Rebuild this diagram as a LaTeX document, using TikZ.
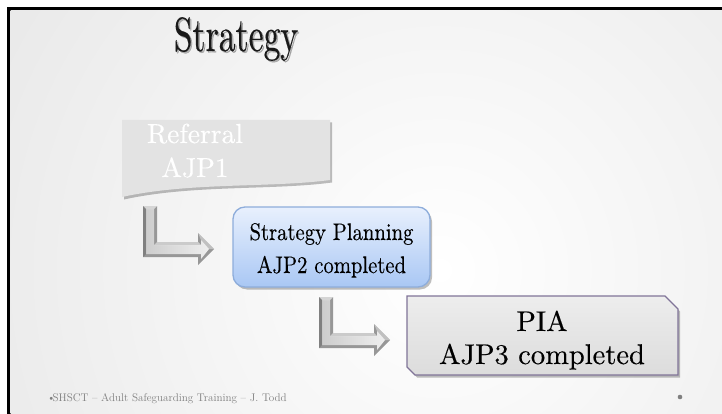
\documentclass[tikz,border=0pt]{standalone}
\usepackage{fontspec}
\newfontfamily\heavyrm{lmroman10-regular}[Extension=.otf, FakeBold=0.35]
\usetikzlibrary{shadows}
\definecolor{bgedge}{HTML}{D4D4D4}
\definecolor{refbox}{HTML}{E3E3E3}
\definecolor{blueTop}{HTML}{E8F0FD}
\definecolor{blueBot}{HTML}{A9C7F4}
\definecolor{blueLine}{HTML}{8EADDB}
\definecolor{piaLine}{HTML}{807498}
\definecolor{piaTop}{HTML}{EDEDED}
\definecolor{piaBot}{HTML}{DCDCDC}
\definecolor{arrDark}{HTML}{979797}
\definecolor{arrLight}{HTML}{EEEEEE}
\definecolor{arrMid}{HTML}{CDCDCD}
\definecolor{footgray}{HTML}{7F7F7F}
\newcommand{\cond}[2]{\scalebox{#1}[1]{#2}}
\tikzset{
  basetext/.style={anchor=base, inner sep=0pt},
  softshadow/.style={drop shadow={shadow xshift=2pt, shadow yshift=-2.5pt, opacity=0.25, fill=black}},
}
\newcommand{\bentarrowshape}{%
  \fill[arrDark] (143,206) -- (157,206) -- (157,242) -- (198,242) -- (198,233)
     -- (214,249) -- (198,265) -- (198,257) -- (143,257) -- cycle;
  \shade[left color=arrMid, right color=arrLight]
     (146,209) -- (154,209) -- (154,245) -- (201,245) -- (201,240)
     -- (209,249) -- (201,259) -- (201,254) -- (146,254) -- cycle;
  \fill[white, opacity=0.6] (143,206) -- (157,206) -- (154,209) -- (146,209) -- cycle;
  \fill[white, opacity=0.5] (157,242) -- (198,242) -- (201,245) -- (154,245) -- cycle;
  \fill[white, opacity=0.4] (198,233) -- (214,249) -- (209,249) -- (201,240) -- cycle;
  \fill[black, opacity=0.15] (143,206) -- (146,209) -- (146,254) -- (143,257) -- cycle;
}
\begin{document}
\begin{tikzpicture}[x=1pt,y=-1pt]
\useasboundingbox (0,0) rectangle (722,414);
% background
\fill[white] (0,0) rectangle (722,414);
\fill[black] (7,7) rectangle (722,414);
\begin{scope}
  \clip (10.5,10.5) rectangle (722,414);
  \shade[inner color=white, outer color=bgedge] (440,270) circle (1000);
\end{scope}
% title
\node[basetext, text=black, opacity=0.25, font=\heavyrm\fontsize{48}{48}\selectfont] at (237.5,52.5) {\cond{0.7}{Strategy}};
\node (title) [basetext, text=black!90, font=\heavyrm\fontsize{48}{48}\selectfont] at (236,51) {\cond{0.7}{Strategy}};
% referral (document shape)
\path[fill=refbox, softshadow] (122,120) -- (330,120) -- (330,180)
   .. controls (270,188) and (190,182) .. (122,197) -- cycle;
\node (ref1) [basetext, text=white, font=\heavyrm\fontsize{27.5}{30}\selectfont] at (195,143) {Referral};
\node (ref2) [basetext, text=white, font=\heavyrm\fontsize{27.5}{30}\selectfont] at (195,177) {AJP1};
% bent arrows
\begin{scope}
  \bentarrowshape
\end{scope}
\begin{scope}[shift={(176,91)}]
  \bentarrowshape
\end{scope}
% strategy planning box
\path[draw=blueLine, line width=1.3pt, rounded corners=12pt, top color=blueTop, bottom color=blueBot, softshadow]
   (233,207) rectangle (430,287);
\node (sp1) [basetext, font=\heavyrm\fontsize{24}{30}\selectfont] at (331.5,240) {\cond{0.86}{Strategy Planning}};
\node (sp2) [basetext, font=\heavyrm\fontsize{24}{30}\selectfont] at (331.5,273) {\cond{0.86}{AJP2 completed}};
% PIA snip box
\path[draw=piaLine, line width=1.3pt, top color=piaTop, bottom color=piaBot, softshadow]
   (407,296) -- (665,296) -- (678,309) -- (678,375) -- (415,375) -- (407,367) -- cycle;
\node (pia1) [basetext, font=\heavyrm\fontsize{28.5}{34}\selectfont] at (542,331) {PIA};
\node (pia2) [basetext, font=\heavyrm\fontsize{28.5}{34}\selectfont] at (542,364) {AJP3 completed};
% footer
\node (foot) [anchor=base west, inner sep=0pt, text=footgray, font=\fontsize{11.1}{13}\selectfont]
   at (47,401) {\textbullet\kern-3pt SHSCT – Adult Safeguarding Training – J. Todd};
\fill[footgray] (680,397) circle (2.3);
\end{tikzpicture}
\end{document}
